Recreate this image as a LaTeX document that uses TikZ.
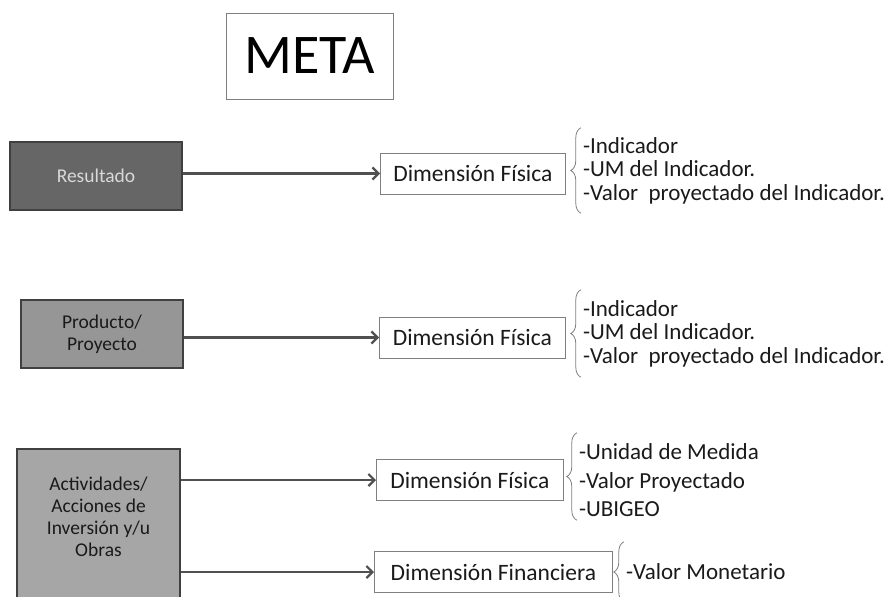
\documentclass[tikz,border=0pt]{standalone}
\usepackage{fontspec}
\setmainfont{Carlito}
\usepackage{xcolor}
\definecolor{meta-dark}{RGB}{64,64,64}
\definecolor{meta-res}{RGB}{102,102,102}
\definecolor{meta-prod}{RGB}{150,150,150}
\definecolor{meta-act}{RGB}{166,166,166}
\definecolor{meta-line}{RGB}{80,80,80}
\definecolor{meta-frame}{RGB}{127,127,127}
\definecolor{meta-text}{RGB}{26,26,26}
\definecolor{meta-light}{RGB}{217,217,217}
\usepackage{tikz}
\usetikzlibrary{positioning, arrows.meta, decorations.pathreplacing}

\begin{document}
\begin{tikzpicture}[
    x=1pt, y=-1pt,
    titulo/.style={rectangle, draw=meta-frame, line width=0.8pt, minimum width=167pt, minimum height=86pt, inner sep=0pt, font=\fontsize{56}{60}\selectfont},
    nivel/.style={rectangle, draw=meta-dark, line width=2.4pt, inner sep=0pt, align=center, text=meta-text, font=\fontsize{19.5}{22}\selectfont},
    dimbox/.style={rectangle, draw=meta-frame, line width=0.8pt, minimum height=41pt, inner sep=0pt, anchor=west, text=meta-text, font=\fontsize{23.5}{26}\selectfont},
    lista/.style={align=left, inner xsep=2pt, inner ysep=0pt, text=meta-text, font=\fontsize{23}{23.5}\selectfont},
    arrow/.style={-{Straight Barb[length=6pt, width=12pt]}, line width=2.2pt, color=meta-line},
    llave/.style={decorate, decoration={brace, amplitude=10pt}, draw=meta-frame, line width=0.8pt}
]

\useasboundingbox (0,0) rectangle (895,597);

% Titulo
\node[titulo] (meta) at (309.5,56) {META};

% Niveles
\node[nivel, fill=meta-res, text=meta-light, minimum width=172pt, minimum height=68pt] (res) at (96,176) {Resultado};
\node[nivel, fill=meta-prod, minimum width=162pt, minimum height=68pt] (prod) at (102,334) {Producto/\\Proyecto};
\node[nivel, fill=meta-act, minimum width=163pt, minimum height=200pt, anchor=north] (act) at (98.5,448) {};
\node[nivel, draw=none, below=28pt of act.north] (actlbl) {Actividades/\\Acciones de\\Inversión y/u\\Obras};

% Dimensiones
\node[dimbox, minimum width=185pt] (fis1) at (380,173.5) {Dimensión Física};
\node[dimbox, minimum width=186pt] (fis2) at (379,337.5) {Dimensión Física};
\node[dimbox, minimum width=187pt] (fis3) at (376,480) {Dimensión Física};
\node[dimbox, minimum width=238pt] (fin) at (374,572) {Dimensión Financiera};

% Listas
\node[lista, minimum height=85pt, right=15pt of fis1, yshift=3pt] (l1) {-Indicador\\-UM del Indicador.\\-Valor\ \ proyectado del Indicador.};
\node[lista, minimum height=87pt, right=15pt of fis2, yshift=4pt] (l2) {-Indicador\\-UM del Indicador.\\-Valor\ \ proyectado del Indicador.};
\node[lista, minimum height=87pt, right=13pt of fis3, yshift=-0.5pt, font=\fontsize{23}{28.5}\selectfont] (l3) {-Unidad de Medida\\-Valor Proyectado\\-UBIGEO};
\node[lista, minimum height=60pt, right=11pt of fin] (l4) {-Valor Monetario};

% Conexiones
\draw[arrow] (fis1.west -| res.east) -- (fis1.west);
\draw[arrow] (fis2.west -| prod.east) -- (fis2.west);
\draw[arrow] (fis3.west -| act.east) -- (fis3.west);
\draw[arrow] (fin.west -| act.east) -- (fin.west);

% Llaves
\draw[llave] (l1.south west) -- (l1.north west);
\draw[llave] (l2.south west) -- (l2.north west);
\draw[llave] ([yshift=4pt]l3.south west) -- ([yshift=4pt]l3.north west);
\draw[llave] (l4.south west) -- (l4.north west);

\end{tikzpicture}
\end{document}
